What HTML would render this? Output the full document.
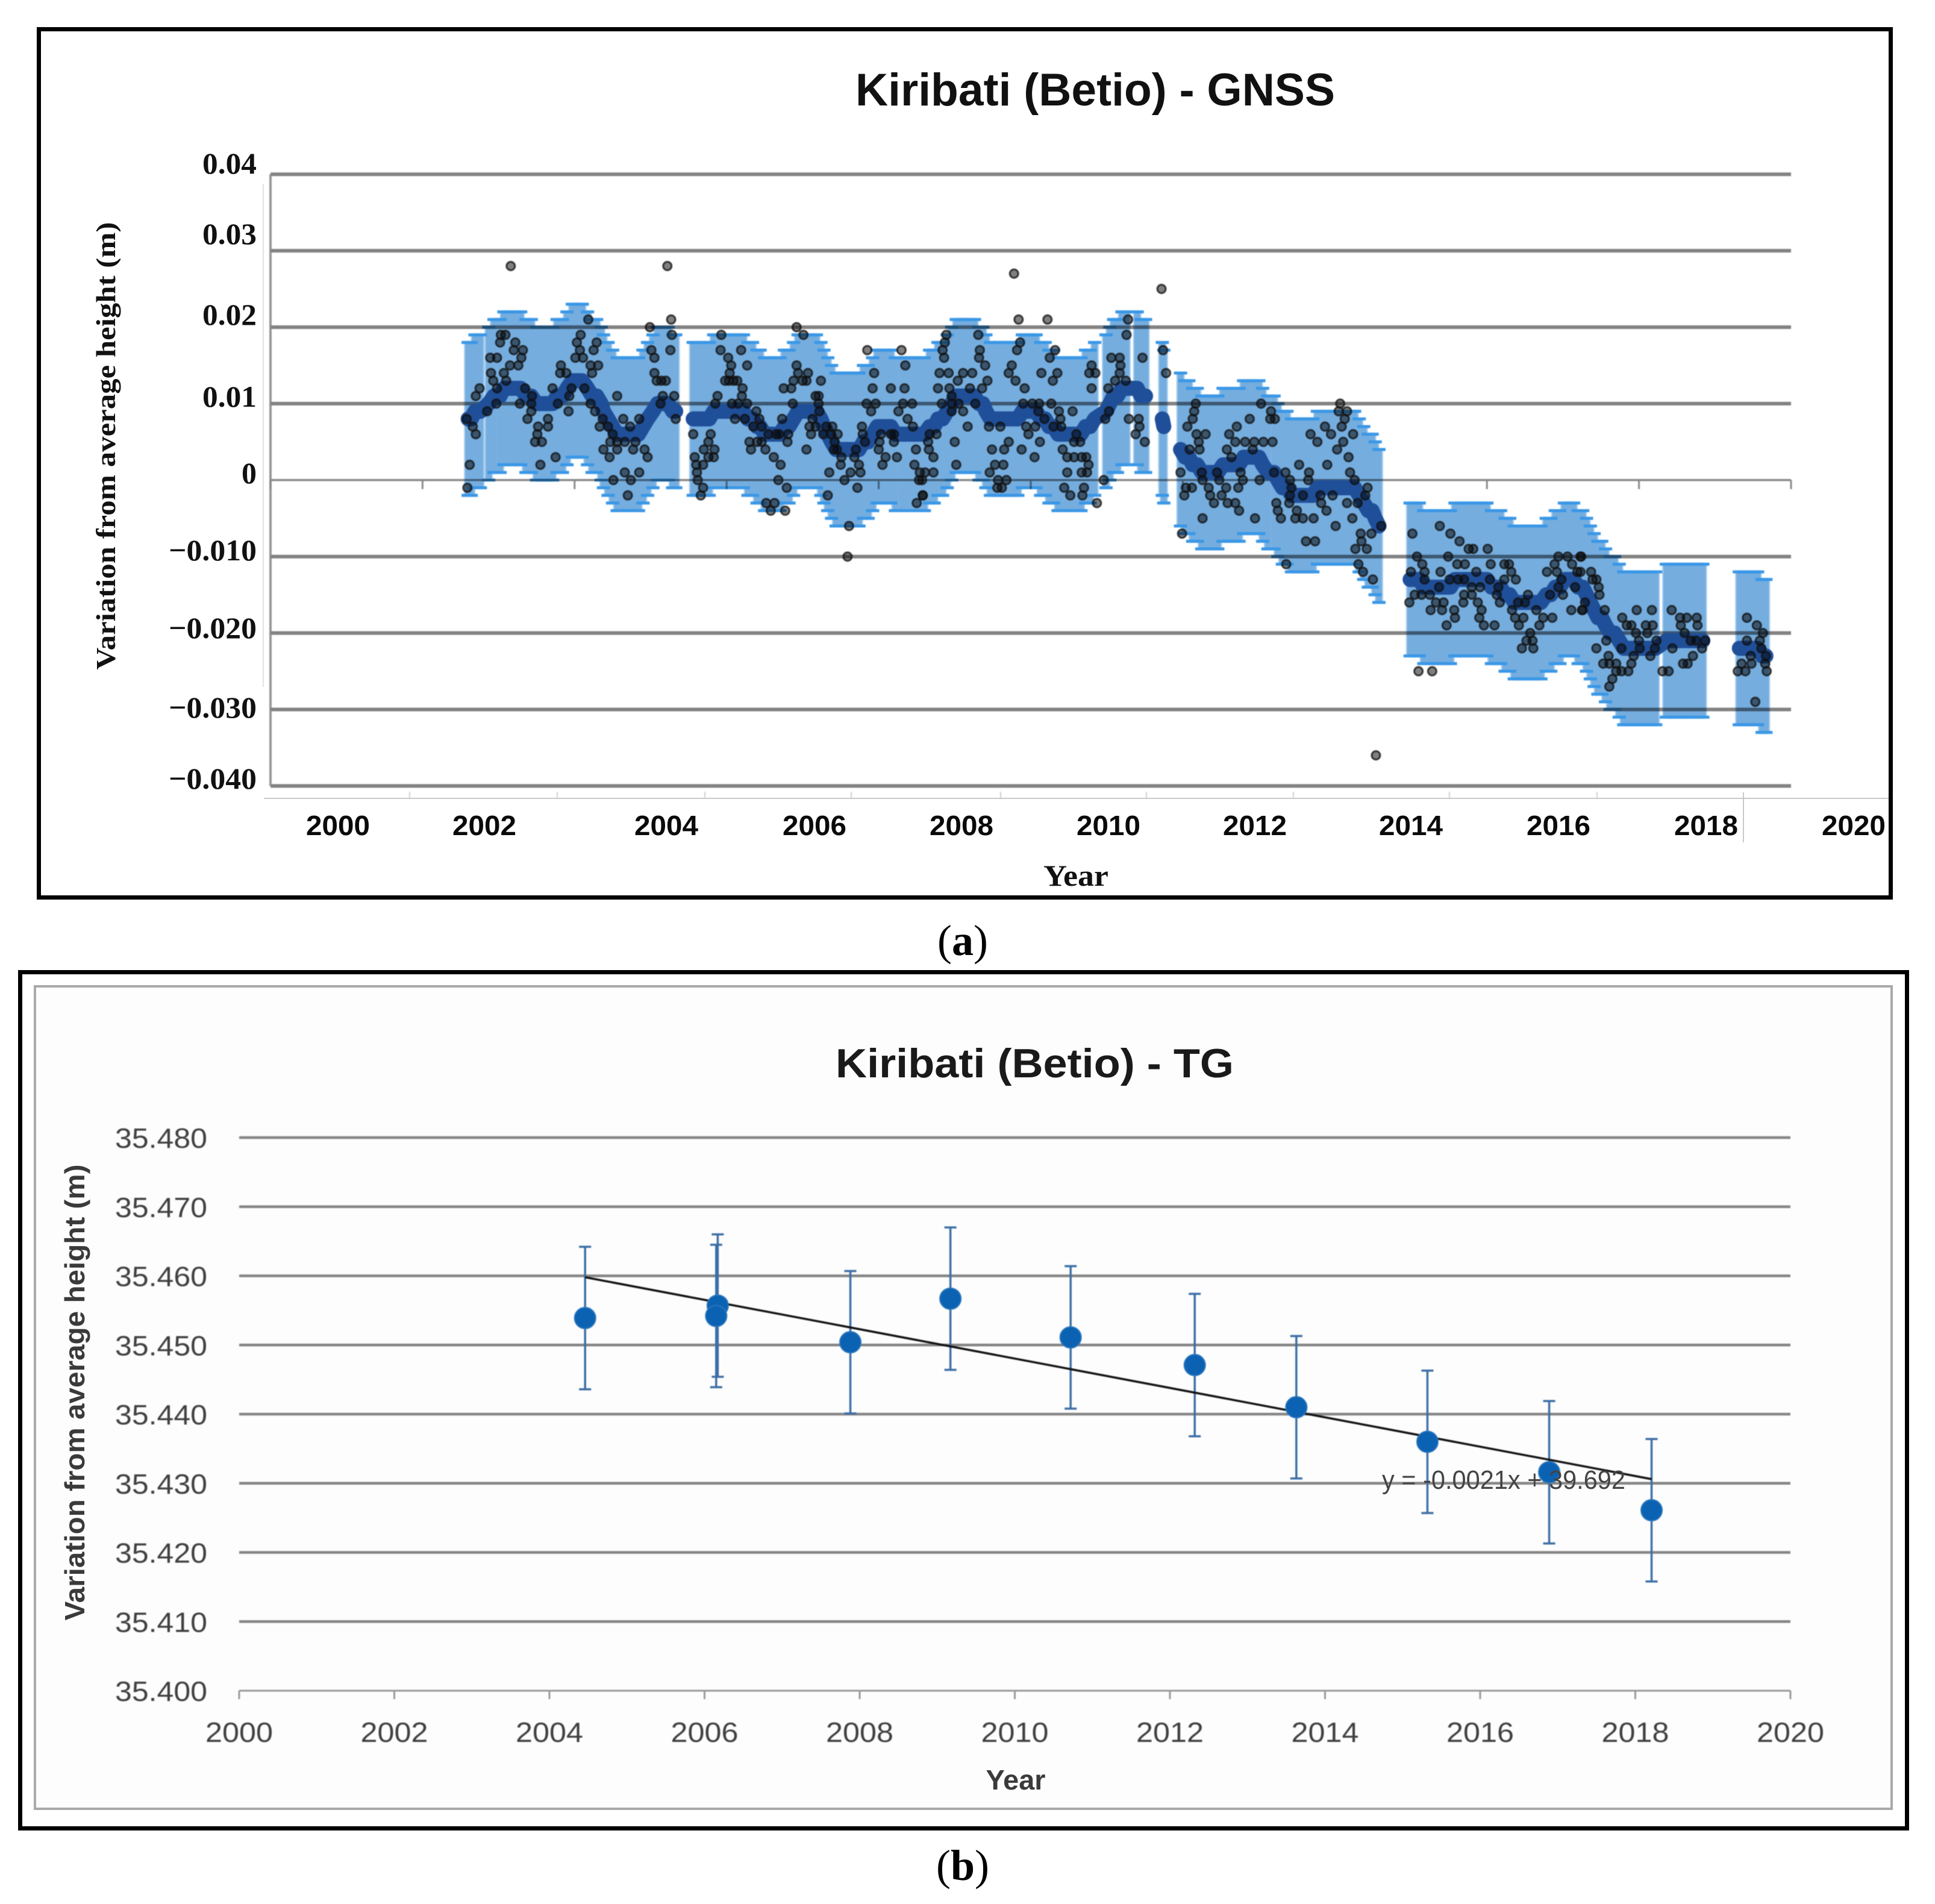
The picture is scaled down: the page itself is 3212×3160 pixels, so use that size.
<!DOCTYPE html>
<html lang="en">
<head>
<meta charset="utf-8">
<title>Kiribati (Betio) - GNSS and TG</title>
<style>
html,body{margin:0;padding:0;background:#fff;}
svg{display:block;}
.ser{font-family:"Liberation Serif",serif;font-weight:700;fill:#111;}
.san{font-family:"Liberation Sans",sans-serif;}
#a-plot,#b-plot{filter:blur(0.9px);}
</style>
</head>
<body>
<svg id="figure" xmlns="http://www.w3.org/2000/svg" width="3212" height="3160" viewBox="0 0 3212 3160">
  <rect x="0" y="0" width="3212" height="3160" fill="#fff"/>

  <!-- Panel (a) -->
  <rect x="64.5" y="48.5" width="3074" height="1441" fill="#fff" stroke="#000" stroke-width="7"/>
  <line x1="438" y1="1325" x2="3135" y2="1325" stroke="#c9c9c9" stroke-width="2"/>
  <line x1="437" y1="305" x2="437" y2="1140" stroke="#e2e2e2" stroke-width="2"/>
  <line x1="2894" y1="1315" x2="2894" y2="1398" stroke="#c9c9c9" stroke-width="2"/>
  <g id="a-plot"></g>
  <text class="san" x="1420" y="175" font-size="76" font-weight="700" fill="#111" textLength="796" lengthAdjust="spacingAndGlyphs">Kiribati (Betio) - GNSS</text>
  <text class="ser" transform="translate(191,740) rotate(-90)" text-anchor="middle" font-size="46" textLength="743" lengthAdjust="spacingAndGlyphs">Variation from average height (m)</text>
  <g class="ser" font-size="50" text-anchor="end">
    <text x="426" y="288" textLength="90" lengthAdjust="spacingAndGlyphs">0.04</text>
    <text x="426" y="405" textLength="90" lengthAdjust="spacingAndGlyphs">0.03</text>
    <text x="426" y="539" textLength="90" lengthAdjust="spacingAndGlyphs">0.02</text>
    <text x="426" y="675" textLength="90" lengthAdjust="spacingAndGlyphs">0.01</text>
    <text x="426" y="802">0</text>
    <text x="426" y="930" textLength="146" lengthAdjust="spacingAndGlyphs">−0.010</text>
    <text x="426" y="1059" textLength="146" lengthAdjust="spacingAndGlyphs">−0.020</text>
    <text x="426" y="1191" textLength="146" lengthAdjust="spacingAndGlyphs">−0.030</text>
    <text x="426" y="1309" textLength="146" lengthAdjust="spacingAndGlyphs">−0.040</text>
  </g>
  <g class="san" font-size="46" font-weight="700" fill="#0a0a0a" text-anchor="middle">
    <text x="561" y="1386" textLength="106" lengthAdjust="spacingAndGlyphs">2000</text>
    <text x="804" y="1386" textLength="106" lengthAdjust="spacingAndGlyphs">2002</text>
    <text x="1106" y="1386" textLength="106" lengthAdjust="spacingAndGlyphs">2004</text>
    <text x="1352" y="1386" textLength="106" lengthAdjust="spacingAndGlyphs">2006</text>
    <text x="1596" y="1386" textLength="106" lengthAdjust="spacingAndGlyphs">2008</text>
    <text x="1840" y="1386" textLength="106" lengthAdjust="spacingAndGlyphs">2010</text>
    <text x="2083" y="1386" textLength="106" lengthAdjust="spacingAndGlyphs">2012</text>
    <text x="2342" y="1386" textLength="106" lengthAdjust="spacingAndGlyphs">2014</text>
    <text x="2587" y="1386" textLength="106" lengthAdjust="spacingAndGlyphs">2016</text>
    <text x="2832" y="1386" textLength="106" lengthAdjust="spacingAndGlyphs">2018</text>
    <text x="3077" y="1386" textLength="106" lengthAdjust="spacingAndGlyphs">2020</text>
  </g>
  <text class="ser" x="1786" y="1470" font-size="50" text-anchor="middle" textLength="108" lengthAdjust="spacingAndGlyphs">Year</text>
  <text x="1598" y="1585" font-family="'Liberation Serif',serif" font-size="72" fill="#000" text-anchor="middle">(<tspan font-weight="700">a</tspan>)</text>

  <!-- Panel (b) -->
  <rect x="33.5" y="1613.5" width="3132" height="1421" fill="#fff" stroke="#000" stroke-width="7"/>
  <rect x="58" y="1637" width="3082" height="1365" fill="#fdfdfd" stroke="#a9a9a9" stroke-width="4"/>
  <g id="b-plot"></g>
  <text class="san" x="1387" y="1788" font-size="68" font-weight="700" fill="#1a1a1a" textLength="661" lengthAdjust="spacingAndGlyphs">Kiribati (Betio) - TG</text>
  <text class="san" transform="translate(140,2311) rotate(-90)" text-anchor="middle" font-size="46" font-weight="700" fill="#3a3a3a" textLength="757" lengthAdjust="spacingAndGlyphs">Variation from average height (m)</text>
  <text class="san" x="1686" y="2970" font-size="46" font-weight="700" fill="#3a3a3a" text-anchor="middle" textLength="99" lengthAdjust="spacingAndGlyphs">Year</text>
  <text class="san" x="2294" y="2471" font-size="44" fill="#444" textLength="404" lengthAdjust="spacingAndGlyphs">y = -0.0021x + 39.692</text>
  <text x="1598" y="3120" font-family="'Liberation Serif',serif" font-size="72" fill="#000" text-anchor="middle">(<tspan font-weight="700">b</tspan>)</text>
</svg>

<script>
// ---------- Panel (a) data: GNSS (heights in mm) ----------
const gridLevelsA = [40, 30, 20, 10, -10, -20, -30, -40];
const zeroLevelA = 0;
const zeroTickYearsA = [2000, 2002, 2004, 2006, 2008, 2010, 2012, 2014, 2016, 2018, 2020];
const errorHalfWidthMm = 10;

const avgSeg1 = [[2002.60,8],[2002.64,8],[2002.69,9],[2002.76,9],[2002.87,10],[2002.94,11],[2003.02,11],[2003.07,12],[2003.15,12],[2003.22,12],[2003.29,12],[2003.36,11],[2003.43,11],[2003.50,10],[2003.57,10],[2003.64,10],[2003.71,10],[2003.77,11],[2003.84,11],[2003.90,12],[2003.97,13],[2004.03,13],[2004.10,13],[2004.17,12],[2004.23,11],[2004.29,11],[2004.35,10],[2004.38,9],[2004.44,8],[2004.50,7],[2004.56,6],[2004.63,6],[2004.70,6],[2004.77,6],[2004.84,6],[2004.90,7],[2004.96,8],[2005.03,9],[2005.09,10],[2005.16,10],[2005.23,10],[2005.29,9],[2005.33,9]];
const avgSeg2 = [[2005.56,8],[2005.63,8],[2005.70,8],[2005.77,8],[2005.83,9],[2005.90,9],[2005.96,9],[2006.03,9],[2006.10,9],[2006.17,9],[2006.22,9],[2006.28,8],[2006.34,8],[2006.40,7],[2006.44,7],[2006.50,6],[2006.57,6],[2006.64,6],[2006.70,6],[2006.76,7],[2006.82,7],[2006.88,8],[2006.94,9],[2007.00,9],[2007.06,9],[2007.12,9],[2007.18,9],[2007.24,8],[2007.28,7],[2007.33,6],[2007.38,5],[2007.44,4],[2007.50,4],[2007.56,4],[2007.62,4],[2007.68,4],[2007.74,4],[2007.80,5],[2007.86,5],[2007.92,6],[2007.98,7],[2008.04,7],[2008.10,7],[2008.16,7],[2008.22,6],[2008.30,6],[2008.36,6],[2008.42,6],[2008.48,6],[2008.54,6],[2008.60,6],[2008.67,7],[2008.73,7],[2008.78,8],[2008.84,8],[2008.90,9],[2008.96,10],[2009.02,11],[2009.08,11],[2009.14,11],[2009.20,11],[2009.26,11],[2009.32,10],[2009.37,10],[2009.41,9],[2009.47,8],[2009.53,8],[2009.59,8],[2009.65,8],[2009.71,8],[2009.77,8],[2009.83,8],[2009.89,9],[2009.95,9],[2010.01,9],[2010.07,9],[2010.13,8],[2010.19,8],[2010.24,7],[2010.30,7],[2010.36,6],[2010.42,6],[2010.48,6],[2010.54,6],[2010.60,6],[2010.66,6],[2010.72,7],[2010.78,7],[2010.84,8],[2010.99,9],[2011.04,10],[2011.09,11],[2011.14,11],[2011.20,12],[2011.26,12],[2011.40,12],[2011.45,11],[2011.51,11]];
const avgIsolated = [[2011.73,8],[2011.75,7]];
const avgSeg3 = [[2011.97,4],[2012.03,3],[2012.08,3],[2012.13,2],[2012.19,2],[2012.25,1],[2012.32,1],[2012.39,1],[2012.46,1],[2012.53,2],[2012.60,2],[2012.67,2],[2012.74,2],[2012.80,3],[2012.87,3],[2012.93,3],[2013.00,3],[2013.05,2],[2013.12,1],[2013.20,1],[2013.25,0],[2013.31,-1],[2013.37,-1],[2013.43,-2],[2013.50,-2],[2013.57,-2],[2013.64,-2],[2013.71,-2],[2013.77,-1],[2013.84,-1],[2013.91,-1],[2013.98,-1],[2014.05,-1],[2014.12,-1],[2014.19,-1],[2014.26,-1],[2014.32,-2],[2014.38,-3],[2014.44,-4],[2014.49,-4],[2014.53,-5],[2014.58,-6]];
const avgSeg4 = [[2014.99,-13],[2015.05,-13],[2015.11,-13],[2015.17,-14],[2015.24,-14],[2015.31,-14],[2015.38,-14],[2015.45,-14],[2015.52,-14],[2015.58,-13],[2015.65,-13],[2015.72,-13],[2015.79,-13],[2015.86,-13],[2015.93,-13],[2016.00,-13],[2016.06,-14],[2016.12,-14],[2016.18,-14],[2016.24,-15],[2016.30,-15],[2016.36,-16],[2016.43,-16],[2016.50,-16],[2016.57,-16],[2016.64,-16],[2016.71,-16],[2016.78,-15],[2016.84,-15],[2016.90,-14],[2016.96,-14],[2017.02,-13],[2017.08,-13],[2017.14,-13],[2017.20,-14],[2017.26,-14],[2017.31,-15],[2017.36,-16],[2017.41,-17],[2017.46,-18],[2017.51,-18],[2017.56,-19],[2017.62,-20],[2017.68,-20],[2017.74,-21],[2017.80,-22],[2017.87,-22],[2017.94,-22],[2018.01,-22],[2018.08,-22],[2018.15,-22],[2018.22,-22],[2018.36,-21],[2018.43,-21],[2018.50,-21],[2018.57,-21],[2018.64,-21],[2018.71,-21],[2018.78,-21],[2018.84,-21]];
const avgSeg5 = [[2019.32,-22],[2019.38,-22],[2019.44,-22],[2019.50,-22],[2019.56,-22],[2019.62,-23],[2019.67,-23]];

const obsSeg1 = [[2003.16,28],[2005.22,28],[2005.27,21],[2004.18,21],[2004.99,20],[2003.09,19],[2003.03,19],[2004.08,19],[2005.28,19],[2003.02,18],[2003.22,18],[2004.03,18],[2004.29,18],[2003.20,17],[2003.32,17],[2004.07,17],[2004.25,17],[2005.01,17],[2005.26,17],[2002.89,16],[2002.98,16],[2003.30,16],[2004.01,16],[2004.11,16],[2005.05,16],[2003.15,15],[2003.26,15],[2003.82,15],[2004.21,15],[2004.31,15],[2002.90,14],[2003.07,14],[2003.81,14],[2003.89,14],[2004.23,14],[2005.05,14],[2002.93,13],[2003.10,13],[2005.08,13],[2005.14,13],[2005.20,13],[2002.75,12],[2002.98,12],[2003.35,12],[2003.71,12],[2003.96,12],[2004.13,12],[2002.70,11],[2003.44,11],[2003.93,11],[2004.56,11],[2005.16,11],[2005.31,11],[2002.97,10],[2003.28,10],[2003.43,10],[2003.78,10],[2004.21,10],[2005.13,10],[2002.85,9],[2003.43,9],[2003.92,9],[2004.27,9],[2002.58,8],[2003.38,8],[2003.65,8],[2004.37,8],[2004.64,8],[2004.85,8],[2005.33,8],[2002.66,7],[2003.52,7],[2003.65,7],[2004.33,7],[2004.44,7],[2004.73,7],[2002.70,6],[2003.51,6],[2004.50,6],[2003.48,5],[2003.57,5],[2004.56,5],[2004.47,5],[2004.66,5],[2004.80,5],[2004.38,4],[2004.77,4],[2004.92,4],[2004.56,4],[2003.75,3],[2004.46,3],[2004.96,3],[2002.62,2],[2003.55,2],[2004.66,1],[2004.85,1],[2004.51,0],[2004.74,0],[2002.59,-1],[2004.70,-2]];
const obsSeg2a = [[2006.92,20],[2007.01,19],[2005.93,19],[2005.92,17],[2006.19,17],[2006.02,16],[2006.06,15],[2006.27,15],[2006.04,14],[2005.98,13],[2006.03,13],[2006.09,13],[2006.14,13],[2006.21,12],[2005.88,11],[2006.20,11],[2005.85,10],[2006.07,10],[2006.15,10],[2006.27,10],[2006.39,9],[2006.43,8],[2006.11,8],[2006.24,8],[2006.35,7],[2006.46,7],[2005.56,6],[2005.79,6],[2005.76,5],[2005.70,4],[2005.84,4],[2005.58,3],[2005.76,3],[2005.83,3],[2005.60,2],[2005.69,2],[2005.61,1],[2005.62,0],[2005.69,-1],[2005.66,-2],[2006.30,5],[2006.40,5],[2006.46,5],[2006.32,4],[2006.51,4],[2006.62,3],[2006.71,2],[2006.68,0],[2006.79,-1],[2006.52,-3],[2006.63,-3],[2006.58,-4],[2006.77,-4],[2006.55,6],[2006.65,6],[2006.69,6],[2006.81,6],[2006.80,5],[2006.73,8],[2006.87,10],[2007.05,4],[2006.92,15],[2006.94,14],[2007.07,14],[2006.88,13],[2007.00,13],[2007.05,13],[2007.24,13],[2006.75,12],[2006.85,12],[2007.17,11],[2007.21,11],[2007.21,10],[2007.22,9],[2007.13,8],[2007.09,7],[2007.17,7],[2007.11,6],[2007.31,7],[2007.39,7],[2007.27,6],[2007.37,6],[2007.46,6],[2007.42,5],[2007.41,4],[2007.45,4],[2007.51,3],[2007.68,3],[2007.50,2],[2007.74,2],[2007.35,1],[2007.63,1],[2007.76,1],[2007.55,0],[2007.72,-1],[2007.33,-2],[2007.61,-6],[2007.59,-10],[2007.78,7],[2007.79,6],[2007.70,4],[2007.82,5],[2007.85,17],[2008.30,17],[2007.94,14],[2008.35,15],[2007.92,12],[2008.16,12],[2008.34,12],[2007.84,10],[2007.96,10],[2008.32,10],[2008.44,10],[2007.90,9],[2008.26,9],[2008.38,8],[2008.45,7],[2008.03,6],[2008.16,6],[2008.20,6],[2008.01,5],[2008.20,5],[2008.00,4],[2008.49,4],[2008.09,3],[2008.24,3],[2008.05,2],[2008.47,2],[2008.54,1],[2008.53,0],[2008.58,-2],[2008.50,-3]];
const obsSeg2b = [[2009.78,27],[2011.72,25],[2009.84,21],[2010.22,21],[2011.28,21],[2008.89,19],[2009.31,19],[2011.26,19],[2008.87,18],[2009.86,18],[2008.84,17],[2009.33,17],[2009.82,17],[2010.32,17],[2011.74,17],[2008.86,16],[2009.32,16],[2010.25,16],[2011.06,16],[2011.17,16],[2011.47,16],[2009.40,15],[2009.75,15],[2010.80,15],[2011.18,15],[2008.80,14],[2008.92,14],[2009.11,14],[2009.23,14],[2009.71,14],[2010.14,14],[2010.35,14],[2010.77,14],[2010.85,14],[2011.17,14],[2011.78,14],[2009.04,13],[2009.43,13],[2009.80,13],[2010.29,13],[2011.11,13],[2011.25,13],[2008.78,12],[2008.93,12],[2009.20,12],[2009.36,12],[2009.92,12],[2010.80,12],[2011.02,12],[2008.96,11],[2008.83,10],[2008.96,10],[2009.05,10],[2009.27,10],[2009.90,10],[2010.02,10],[2010.11,10],[2010.27,10],[2008.96,9],[2009.11,9],[2010.10,9],[2010.37,9],[2010.55,9],[2011.03,9],[2010.18,8],[2010.39,8],[2010.98,8],[2011.29,8],[2011.42,8],[2009.45,7],[2009.60,7],[2009.17,7],[2009.94,7],[2010.06,7],[2010.30,7],[2010.40,7],[2011.43,7],[2008.67,6],[2008.76,6],[2009.97,6],[2010.60,6],[2011.38,6],[2008.65,5],[2009.00,5],[2009.71,5],[2010.12,5],[2010.57,5],[2010.65,5],[2011.50,5],[2008.66,4],[2009.49,4],[2009.65,4],[2009.88,4],[2010.42,4],[2008.72,3],[2010.05,3],[2010.48,3],[2010.57,3],[2010.67,3],[2010.73,3],[2009.02,2],[2009.53,2],[2009.64,2],[2010.76,2],[2008.61,1],[2008.72,1],[2009.46,1],[2010.48,1],[2010.67,1],[2010.74,1],[2008.57,0],[2009.57,0],[2009.68,0],[2010.96,0],[2009.56,-1],[2009.62,-1],[2010.44,-1],[2010.70,-1],[2008.58,-2],[2010.52,-2],[2010.68,-2],[2010.87,-3]];
const obsSeg3 = [[2014.07,10],[2012.17,10],[2013.03,10],[2012.15,9],[2013.16,9],[2014.05,9],[2014.16,9],[2012.13,8],[2012.88,8],[2013.15,8],[2013.21,8],[2014.13,8],[2012.06,7],[2012.71,7],[2013.87,7],[2014.09,7],[2012.18,6],[2012.30,6],[2012.61,6],[2013.68,6],[2013.95,6],[2014.24,6],[2012.21,5],[2012.69,5],[2012.82,5],[2012.94,5],[2013.06,5],[2013.18,5],[2013.77,5],[2014.11,5],[2012.09,4],[2012.22,4],[2012.58,4],[2012.92,4],[2014.03,4],[2012.64,3],[2014.18,3],[2013.53,2],[2013.90,2],[2011.97,1],[2012.25,1],[2012.45,1],[2012.76,1],[2013.20,1],[2013.35,1],[2013.66,1],[2014.20,1],[2012.26,0],[2012.48,0],[2012.79,0],[2013.01,0],[2013.41,0],[2013.65,0],[2014.26,0],[2012.04,-1],[2012.12,-1],[2012.34,-1],[2012.57,-1],[2012.73,-1],[2013.43,-1],[2014.43,-1],[2012.02,-2],[2012.36,-2],[2012.51,-2],[2013.41,-2],[2013.58,-2],[2013.81,-2],[2013.97,-2],[2014.40,-2],[2012.41,-3],[2012.59,-3],[2012.69,-3],[2013.23,-3],[2013.40,-3],[2013.82,-3],[2014.16,-3],[2014.30,-3],[2012.74,-4],[2013.25,-4],[2013.50,-4],[2013.89,-4],[2012.26,-5],[2012.95,-5],[2013.29,-5],[2013.48,-5],[2013.58,-5],[2013.72,-5],[2014.23,-5],[2014.01,-6],[2014.61,-6],[2011.99,-7],[2014.34,-7],[2014.48,-7],[2013.62,-8],[2013.74,-8],[2014.35,-8],[2014.27,-9],[2014.42,-9],[2013.36,-11],[2014.31,-11],[2014.37,-12],[2014.50,-13],[2014.54,-36]];
const obsSeg4a = [[2015.38,-6],[2015.02,-7],[2015.52,-7],[2015.64,-8],[2015.76,-9],[2015.82,-9],[2016.01,-9],[2015.08,-10],[2015.49,-10],[2016.94,-10],[2017.06,-10],[2017.23,-10],[2015.15,-11],[2015.61,-11],[2015.71,-11],[2016.05,-11],[2016.23,-11],[2016.29,-11],[2016.89,-11],[2017.12,-11],[2015.00,-12],[2015.18,-12],[2015.39,-12],[2015.86,-12],[2016.32,-12],[2016.79,-12],[2016.92,-12],[2017.19,-12],[2015.18,-13],[2015.51,-13],[2015.62,-13],[2015.70,-13],[2016.04,-13],[2016.23,-13],[2016.38,-13],[2016.98,-13],[2015.37,-14],[2015.80,-14],[2015.91,-14],[2016.15,-14],[2016.94,-14],[2017.16,-14],[2015.05,-15],[2015.14,-15],[2015.25,-15],[2015.70,-15],[2015.80,-15],[2016.13,-15],[2016.54,-15],[2016.83,-15],[2017.00,-15],[2014.98,-16],[2015.33,-16],[2015.43,-16],[2015.69,-16],[2015.88,-16],[2016.17,-16],[2016.41,-16],[2016.50,-16],[2017.29,-16],[2015.26,-17],[2015.41,-17],[2015.57,-17],[2015.93,-17],[2016.33,-17],[2016.65,-17],[2017.11,-17],[2017.25,-17],[2015.58,-18],[2015.90,-18],[2016.37,-18],[2016.48,-18],[2016.74,-18],[2016.86,-18],[2015.47,-19],[2015.96,-19],[2016.10,-19],[2016.42,-19],[2016.69,-19],[2016.57,-20],[2016.52,-21],[2016.60,-21],[2016.46,-22],[2016.61,-22],[2015.10,-25],[2015.28,-25]];
const obsSeg4b = [[2017.24,-10],[2017.37,-12],[2017.23,-12],[2017.39,-13],[2017.44,-13],[2017.47,-14],[2017.48,-15],[2017.26,-17],[2017.55,-17],[2017.97,-17],[2018.17,-17],[2018.43,-17],[2017.78,-18],[2018.54,-18],[2018.63,-18],[2018.76,-18],[2017.84,-19],[2017.90,-19],[2018.09,-19],[2018.18,-19],[2018.55,-19],[2018.77,-19],[2017.96,-20],[2018.11,-20],[2018.60,-20],[2017.57,-21],[2018.00,-21],[2018.23,-21],[2018.68,-21],[2018.75,-21],[2018.87,-21],[2017.44,-22],[2017.77,-22],[2018.01,-22],[2018.21,-22],[2018.44,-22],[2018.83,-22],[2017.60,-23],[2017.93,-23],[2018.15,-23],[2018.71,-23],[2017.53,-24],[2017.61,-24],[2017.70,-24],[2017.90,-24],[2018.58,-24],[2018.64,-24],[2017.70,-25],[2017.77,-25],[2017.86,-25],[2018.31,-25],[2018.39,-25],[2017.65,-26],[2017.61,-27]];
const obsSeg5 = [[2019.42,-18],[2019.55,-19],[2019.63,-20],[2019.42,-21],[2019.59,-21],[2019.61,-22],[2019.67,-23],[2019.47,-23],[2019.35,-24],[2019.48,-24],[2019.66,-24],[2019.30,-25],[2019.40,-25],[2019.68,-25],[2019.53,-29]];

// ---------- Panel (b) data: tide gauge ----------
const yTicksB = [35.400, 35.410, 35.420, 35.430, 35.440, 35.450, 35.460, 35.470, 35.480];
const xTicksB = [2000, 2002, 2004, 2006, 2008, 2010, 2012, 2014, 2016, 2018, 2020];
const tgYears = [2004.46, 2006.17, 2006.15, 2007.88, 2009.17, 2010.72, 2012.32, 2013.63, 2015.32, 2016.89, 2018.21];
const tgHeights = [35.4539, 35.4557, 35.4542, 35.4504, 35.4567, 35.4511, 35.4471, 35.4410, 35.4360, 35.4316, 35.4261];
const tgError = [0.0103, 0.0103, 0.0103, 0.0103, 0.0103, 0.0103, 0.0103, 0.0103, 0.0103, 0.0103, 0.0103];
const trendYears = [2004.46, 2018.21];
const trendHeights = [35.4598, 35.4306];

// ---------- Axis functions ----------
function xA(year) { return 449 + (year - 2000) * 126.2; }
function yA(mm) { return 796.8 - mm * 12.69; }
function xB(year) { return 397 + (year - 2000) * 128.75; }
function yB(h) { return 2806 - (h - 35.4) * 11475; }

const SVG_NS = 'http://www.w3.org/2000/svg';
function make(parent, tag, props) {
  const el = document.createElementNS(SVG_NS, tag);
  for (const k in props) el.setAttribute(k, props[k]);
  parent.appendChild(el);
  return el;
}

// ---------- Draw panel (a) ----------
const plotA = document.getElementById('a-plot');
const allAvg = [avgSeg1, avgSeg2, avgIsolated, avgSeg3, avgSeg4, avgSeg5];
const allObs = [obsSeg1, obsSeg2a, obsSeg2b, obsSeg3, obsSeg4a, obsSeg4b, obsSeg5];

const yAxisA = make(plotA, 'line', {x1: xA(2000), y1: yA(40), x2: xA(2000), y2: yA(-40), stroke: '#989898', 'stroke-width': 4});



gridLevelsA.forEach(function (lv) {
  const g = make(plotA, 'line', {x1: xA(2000), y1: yA(lv), x2: xA(2020), y2: yA(lv), stroke: '#828282', 'stroke-width': 6});
  
  
});

const zeroLine = make(plotA, 'line', {x1: xA(2000), y1: yA(zeroLevelA), x2: xA(2020), y2: yA(zeroLevelA), stroke: '#8a8a8a', 'stroke-width': 3.5});



zeroTickYearsA.forEach(function (yr) {
  const t = make(plotA, 'line', {x1: xA(yr), y1: yA(zeroLevelA), x2: xA(yr), y2: yA(zeroLevelA) + 15, stroke: '#8a8a8a', 'stroke-width': 3});
  
  
});

const bandLayer = make(plotA, 'g', {style: 'mix-blend-mode:multiply'});



allAvg.forEach(function (seg) {
  seg.forEach(function (p) {
    const halo = make(bandLayer, 'line', {x1: xA(p[0]), y1: yA(p[1] + errorHalfWidthMm), x2: xA(p[0]), y2: yA(p[1] - errorHalfWidthMm), stroke: '#add0f0', 'stroke-width': 14});
    
    
  });
});
allAvg.forEach(function (seg) {
  seg.forEach(function (p) {
    const bar = make(bandLayer, 'line', {x1: xA(p[0]), y1: yA(p[1] + errorHalfWidthMm), x2: xA(p[0]), y2: yA(p[1] - errorHalfWidthMm), stroke: '#75addf', 'stroke-width': 10});
    
    
  });
});
allAvg.forEach(function (seg) {
  seg.forEach(function (p) {
    [errorHalfWidthMm, -errorHalfWidthMm].forEach(function (d) {
      const cap = make(bandLayer, 'line', {x1: xA(p[0]) - 11, y1: yA(p[1] + d), x2: xA(p[0]) + 11, y2: yA(p[1] + d), stroke: '#3a97e6', 'stroke-width': 5});
      
      
    });
  });
});

allAvg.forEach(function (seg) {
  const pts = seg.map(function (p) { return xA(p[0]) + ',' + yA(p[1]); }).join(' ');
  const line = make(plotA, 'polyline', {points: pts, fill: 'none', stroke: '#1f4f99', 'stroke-width': 25, 'stroke-linejoin': 'round', 'stroke-linecap': 'round'});
  
  
});

allObs.forEach(function (seg) {
  seg.forEach(function (p) {
    const dot = make(plotA, 'circle', {cx: xA(p[0]), cy: yA(p[1]), r: 7, fill: '#000', 'fill-opacity': 0.5, stroke: '#111', 'stroke-opacity': 0.78, 'stroke-width': 3});
    
    
  });
});

const faintTicks = [680, 925, 1170, 1413, 1661, 1903, 2147, 2406, 2651];
faintTicks.forEach(function (px) {
  const ft = make(plotA, 'line', {x1: px, y1: 1314, x2: px, y2: 1326, stroke: '#cfcfcf', 'stroke-width': 2});
  
  
});

// ---------- Draw panel (b) ----------
const plotB = document.getElementById('b-plot');

yTicksB.forEach(function (v) {
  const isAxis = v === yTicksB[0];
  const g = make(plotB, 'line', {x1: xB(2000), y1: yB(v), x2: xB(2020), y2: yB(v), stroke: isAxis ? '#999' : '#858585', 'stroke-width': isAxis ? 3 : 4.5});
  
  
  const lbl = make(plotB, 'text', {x: 344, y: yB(v) + 17, 'text-anchor': 'end', 'font-family': '"Liberation Sans",sans-serif', 'font-size': 46, fill: '#404040', textLength: 153, lengthAdjust: 'spacingAndGlyphs'});
  
  
  lbl.textContent = v.toFixed(3);
});

xTicksB.forEach(function (yr) {
  const t = make(plotB, 'line', {x1: xB(yr), y1: yB(35.4), x2: xB(yr), y2: yB(35.4) + 14, stroke: '#999', 'stroke-width': 3});
  
  
  const lbl = make(plotB, 'text', {x: xB(yr), y: 2891, 'text-anchor': 'middle', 'font-family': '"Liberation Sans",sans-serif', 'font-size': 46, fill: '#404040', textLength: 112, lengthAdjust: 'spacingAndGlyphs'});
  
  
  lbl.textContent = String(yr);
});

tgYears.forEach(function (yr, i) {
  const top = yB(tgHeights[i] + tgError[i]);
  const bot = yB(tgHeights[i] - tgError[i]);
  const x = xB(yr);
  const stem = make(plotB, 'line', {x1: x, y1: top, x2: x, y2: bot, stroke: '#3c6ea6', 'stroke-width': 3.5});
  
  
  [top, bot].forEach(function (cy) {
    const cap = make(plotB, 'line', {x1: x - 10, y1: cy, x2: x + 10, y2: cy, stroke: '#3c6ea6', 'stroke-width': 3.5});
    
    
  });
});

const trend = make(plotB, 'line', {x1: xB(trendYears[0]), y1: yB(trendHeights[0]), x2: xB(trendYears[1]), y2: yB(trendHeights[1]), stroke: '#111', 'stroke-width': 3.5});



tgYears.forEach(function (yr, i) {
  const m = make(plotB, 'circle', {cx: xB(yr), cy: yB(tgHeights[i]), r: 17.5, fill: '#0b62b2', stroke: '#2a76bd', 'stroke-width': 2});
  
  
});
</script>
</body>
</html>
